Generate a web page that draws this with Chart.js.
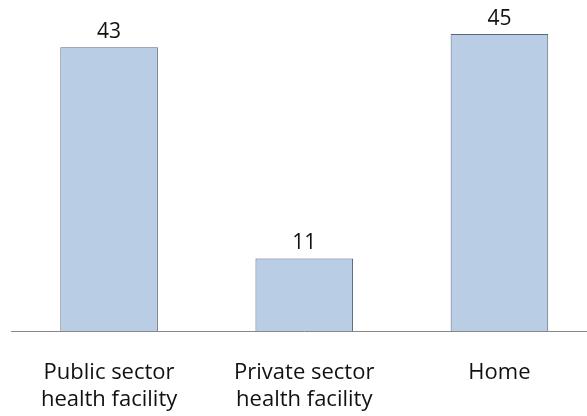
<!DOCTYPE html>
<html><head><meta charset="utf-8">
<script src="https://cdn.jsdelivr.net/npm/chart.js@4"></script>
<style>
html,body{margin:0;padding:0;background:#fff;overflow:hidden;width:587px;height:416px}
#wrap{position:absolute;left:0;top:0;width:597px;height:416px}
</style></head><body>
<div id="wrap"><canvas id="c"></canvas></div>
<script>
const categories = [["Public sector","health facility"],["Private sector","health facility"],["Home"]];
const values = [43, 11, 45];

const valueLabels = {
  id:'valueLabels',
  afterDatasetsDraw(chart){
    const ctx = chart.ctx;
    const meta = chart.getDatasetMeta(0);
    ctx.save();
    ctx.font = '21px "Open Sans"';
    ctx.fillStyle = '#111';
    ctx.textAlign = 'center';
    ctx.textBaseline = 'alphabetic';
    meta.data.forEach((bar,i)=>{
      ctx.fillText(String(values[i]), bar.x, bar.y - 9);
    });
    ctx.restore();
  }
};

new Chart(document.getElementById('c'), {
  type:'bar',
  data:{labels:categories, datasets:[{data:values, backgroundColor:'#b9cde5', borderColor:'#56657a', borderWidth:1, categoryPercentage:1, barPercentage:0.5}]},
  options:{
    responsive:true, maintainAspectRatio:false, animation:false,
    layout:{padding:{left:11.5, right:0, top:0, bottom:0}},
    plugins:{legend:{display:false}, tooltip:{enabled:false}},
    scales:{
      x:{grid:{display:false}, border:{display:true, color:'#888', width:1},
         ticks:{color:'#111', font:{family:'"Open Sans"', size:22, lineHeight:1.22}, padding:20, maxRotation:0, autoSkip:false},
         afterFit(s){ s.height = 85; }},
      y:{display:false, min:0, max:50.15}
    }
  },
  plugins:[valueLabels]
});
</script></body></html>
